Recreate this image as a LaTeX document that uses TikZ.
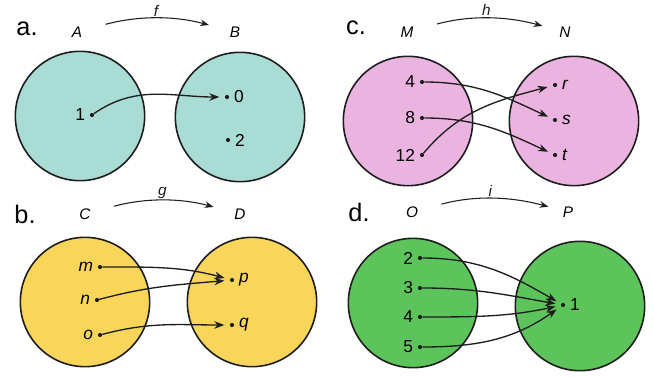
\documentclass[tikz,border=0pt]{standalone}
\usepackage{fontspec}
\setmainfont{Liberation Sans}
\usetikzlibrary{arrows.meta}
\definecolor{setTeal}{HTML}{A8DCD4}
\definecolor{setPink}{HTML}{EBB4E0}
\definecolor{setGold}{HTML}{F9D55A}
\definecolor{setGreen}{HTML}{5CC45A}
\definecolor{ink}{HTML}{1E1E1E}

\begin{document}
\begin{tikzpicture}[x=0.75pt,y=0.75pt,>=Stealth,font=\fontsize{13}{15}\selectfont,
  dot/.style={circle,fill=ink,inner sep=1.1pt,label distance=1.5pt},
  setdisk/.style={circle,draw=ink,line width=1.2pt,minimum size=97pt,inner sep=0pt},
  setname/.style={font=\fontsize{11.5}{13}\selectfont\itshape,inner sep=1pt},
  part/.style={font=\fontsize{19}{21}\selectfont},
  map/.style={->,ink,line width=1pt,shorten >=4pt},
  topmap/.style={->,ink,line width=0.8pt,shorten <=17pt,shorten >=15pt}]
\useasboundingbox (0,0) rectangle (654,376);
% a : A -> B
\node[part] at (27,347) {a.};
\node[setname] (sA) at (77,344) {A};
\node[setname] (sB) at (235,344) {B};
\draw[topmap] (sA) to[bend left=15] node[above=1pt,setname] {f} (sB);
\node[setdisk,fill=setTeal] at (80,260) {};
\node[setdisk,fill=setTeal] at (240,259) {};
\node[dot,label=left:1] (a1) at (92,261) {};
\node[dot,label=right:0] (b0) at (227,279) {};
\node[dot,label=right:2] (b2) at (228,236) {};
\draw[map] (a1) to[out=35,in=180] (b0);
% c : M -> N
\node[part] at (356,348) {c.};
\node[setname] (sM) at (407,344) {M};
\node[setname] (sN) at (565,344) {N};
\draw[topmap,shorten >=12pt] (sM) to[bend left=15] node[above=1pt,setname] {h} (sN);
\node[setdisk,fill=setPink] at (408,255) {};
\node[setdisk,fill=setPink] at (574,255) {};
\node[dot,label=left:4]  (m4)  at (422,294) {};
\node[dot,label=left:8]  (m8)  at (422,258) {};
\node[dot,label=left:12] (m12) at (422,221) {};
\node[dot,label={right:\itshape r}] (nr) at (555,291) {};
\node[dot,label={right:\itshape s}] (ns) at (555,256) {};
\node[dot,label={right:\itshape t}] (nt) at (555,221) {};
\draw[map] (m4) to[out=0,in=155] (ns);
\draw[map] (m8) to[out=0,in=155] (nt);
\draw[map] (m12) to[out=50,in=195] (nr);
% b : C -> D
\node[part] at (25,162) {b.};
\node[setname] (sC) at (85,162) {C};
\node[setname] (sD) at (240,162) {D};
\draw[topmap] (sC) to[bend left=15] node[above=1pt,setname] {g} (sD);
\node[setdisk,fill=setGold] at (85,74) {};
\node[setdisk,fill=setGold] at (252,74) {};
\node[dot,label={left:\itshape m}] (cm) at (100,109) {};
\node[dot,label={left:\itshape n}] (cn) at (97,76) {};
\node[dot,label={left:\itshape o}] (co) at (100,41) {};
\node[dot,label={right:\itshape p}] (dp) at (232,96) {};
\node[dot,label={right:\itshape q}] (dq) at (232,51) {};
\draw[map] (cm) to[out=0,in=165] (dp);
\draw[map] (cn) to[out=15,in=185] (dp);
\draw[map] (co) to[out=15,in=180] (dq);
% d : O -> P
\node[part] at (359,164) {d.};
\node[setname] (sO) at (412,164) {O};
\node[setname] (sP) at (568,164) {P};
\draw[topmap,shorten >=10pt] (sO) to[bend left=15] node[above=1pt,setname] {i} (sP);
\node[setdisk,fill=setGreen] at (413,73) {};
\node[setdisk,fill=setGreen] at (580,70) {};
\node[dot,label=left:2] (o2) at (420,118) {};
\node[dot,label=left:3] (o3) at (420,88) {};
\node[dot,label=left:4] (o4) at (420,59) {};
\node[dot,label=left:5] (o5) at (420,29) {};
\node[dot,label=right:1] (p1) at (563,71) {};
\draw[map] (o2) to[out=0,in=150] (p1);
\draw[map] (o3) to[out=0,in=170] (p1);
\draw[map] (o4) to[out=0,in=192] (p1);
\draw[map] (o5) to[out=0,in=215] (p1);
\end{tikzpicture}
\end{document}
